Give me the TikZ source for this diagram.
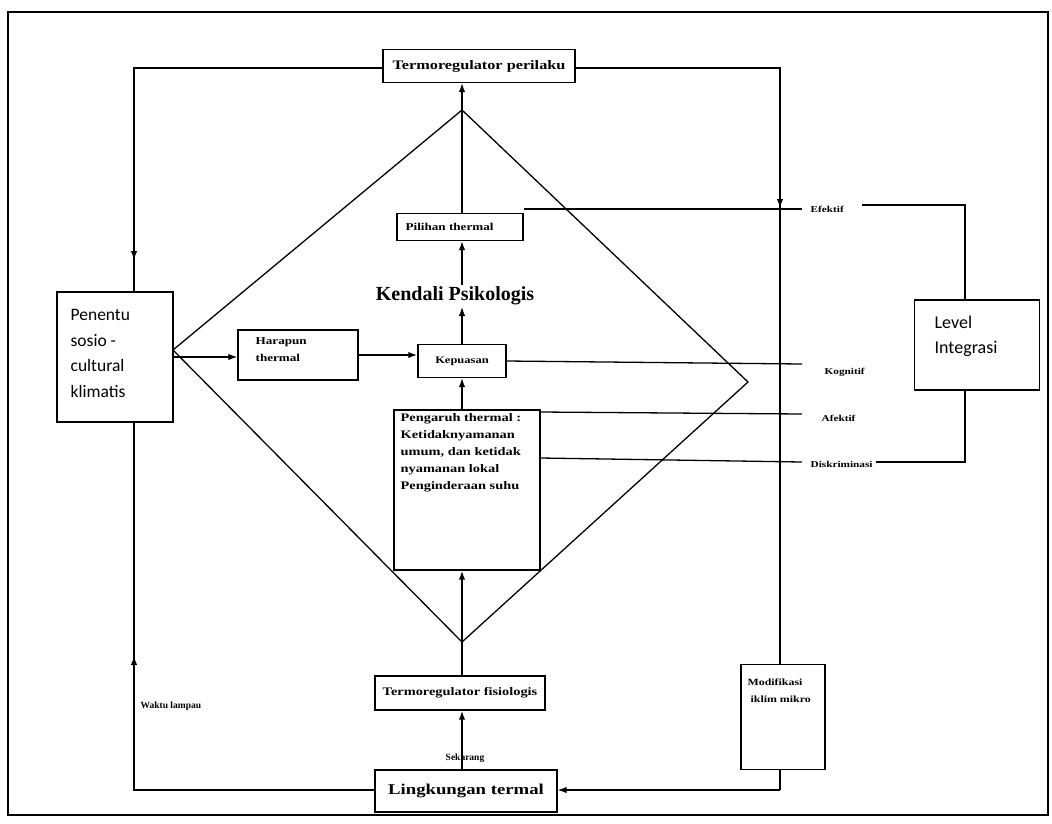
\documentclass[tikz,border=0pt]{standalone}
\usepackage{fontspec}
\setmainfont{Liberation Serif}
\newfontfamily\wideserif[FakeStretch=1.25]{Liberation Serif}
\newfontfamily\humsans{Carlito}
\usetikzlibrary{arrows.meta,calc}
\begin{document}
\begin{tikzpicture}[x=1pt,y=-1pt,line width=1.3pt,
  tip/.style={-{Latex[length=9pt,width=6.5pt]}},
  box/.style={draw,fill=white,line width=1.4pt,inner sep=0pt},
  smalllabel/.style={font=\wideserif\fontsize{10.5}{17}\selectfont\bfseries,align=left,inner sep=0pt},
  sidelabel/.style={font=\wideserif\fontsize{9}{11}\selectfont\bfseries,anchor=west,inner sep=0pt},
  heavy/.style={line width=2.1pt}]
\useasboundingbox (0,0) rectangle (1052,823);
% outer frame
\draw[line width=1.5pt] (8,12) rectangle (1048,815);

% central column used by the vertical chain
\coordinate (col) at (462,0);

% diamond of psychological control
\coordinate (dT) at (462,110);
\coordinate (dR) at (748,382);
\coordinate (dB) at (462,642);
\coordinate (dL) at (173,350);
\draw (dT) -- (dR) -- (dB) -- (dL) -- cycle;

% boxes
\node[box,minimum width=192pt,minimum height=33pt,font=\wideserif\fontsize{13}{15}\selectfont\bfseries] (per) at (479,66) {Termoregulator perilaku};
\node[box,minimum width=126pt,minimum height=27pt] (pil) at (460,227) {};
\node[smalllabel,anchor=west] at (405,227) {Pilihan thermal};
\node[box,minimum width=120pt,minimum height=50pt] (har) at (298,355) {};
\node[smalllabel,anchor=north west,font=\wideserif\fontsize{10.5}{17}\selectfont\bfseries] at (255,337) {Harapun\\thermal};
\node[box,minimum width=88pt,minimum height=33pt,font=\wideserif\fontsize{10}{12}\selectfont\bfseries] (kep) at (462,361) {Kepuasan};
\node[box,minimum width=146pt,minimum height=160pt] (pgr) at (467,490) {};
\node[smalllabel,anchor=north west,font=\wideserif\fontsize{11.5}{17}\selectfont\bfseries] at (400,413)
  {Pengaruh thermal :\\Ketidaknyamanan\\umum, dan ketidak\\nyamanan lokal\\Penginderaan suhu};
\node[box,minimum width=116pt,minimum height=130pt] (sos) at (115,357) {};
\node[anchor=north west,inner sep=0pt,align=left,font=\humsans\fontsize{17.5}{25.5}\selectfont] at (70,309)
  {Penentu\\sosio -\\cultural\\klimatis};
\node[box,minimum width=125pt,minimum height=90pt] (lvl) at (977,345) {};
\node[anchor=north west,inner sep=0pt,align=left,font=\humsans\fontsize{18}{25.5}\selectfont] at (934,315)
  {Level\\Integrasi};
\node[box,minimum width=170pt,minimum height=34pt,font=\wideserif\fontsize{11.5}{14}\selectfont\bfseries] (fis) at (460,693) {Termoregulator fisiologis};
\node[box,minimum width=182pt,minimum height=42pt,font=\wideserif\fontsize{15}{17}\selectfont\bfseries] (lin) at (466,791) {Lingkungan termal};
\node[box,minimum width=84pt,minimum height=105pt] (mod) at (783,717) {};
\node[smalllabel,anchor=north west,font=\wideserif\fontsize{9.5}{17}\selectfont\bfseries] at (747,678) {Modifikasi\\\ iklim mikro};

% title
\node[font=\fontsize{20}{22}\selectfont\bfseries] (title) at (455,296) {Kendali Psikologis};

% side labels
\node[sidelabel] (efk) at (810,209) {Efektif};
\node[sidelabel] (kog) at (824,372) {Kognitif};
\node[sidelabel] (afk) at (821,418) {Afektif};
\node[sidelabel] (dsk) at (810,464) {Diskriminasi};
\node[font=\fontsize{9.5}{11}\selectfont\bfseries,inner sep=0pt,anchor=west] (wkt) at (140,706) {Waktu lampau};
\node[font=\fontsize{9.5}{11}\selectfont\bfseries,inner sep=0pt] (skr) at (465,758) {Sekarang};

% feedback loop on the left
\coordinate (ltop) at (134,68);
\coordinate (lbot) at (134,790);
\draw (per.west |- ltop) -- (ltop) -- (sos.north -| ltop);
\draw[tip] (134,240) -- (134,260);
\draw (lin.west |- lbot) -- (lbot) -- (sos.south -| lbot);
\draw[tip] (134,676) -- (134,656);

% loop on the right through micro-climate modification
\coordinate (rtop) at (780,68);
\coordinate (rbot) at (780,790);
\draw (per.east |- rtop) -- (rtop) -- (mod.north -| rtop);
\draw[tip] (780,188) -- (780,208);
\draw (mod.south -| rbot) -- (rbot);
\draw[tip] (rbot) -- (lin.east |- rbot);

% vertical chain in the middle
\draw[tip] (pil.north -| col) -- (per.south -| col);
\draw[tip] (462,285) -- (pil.south -| col);
\draw[tip] (kep.north) -- (462,307);
\draw[tip] (pgr.north -| col) -- (kep.south -| col);
\draw[tip,heavy] (fis.north -| col) -- (pgr.south -| col);
\draw[tip,heavy] (lin.north -| col) -- (fis.south -| col);

% into the thermal expectation and satisfaction
\draw[tip] (sos.east) -- (har.west |- sos.east);
\draw[tip,heavy] (har.east) -- (kep.west |- har.east);

% integration levels
\draw (pil.east |- efk) -- (802,209);
\draw (kep.east) -- (802,364);
\draw (pgr.east |- 0,412) -- (802,414);
\draw (pgr.east |- 0,458) -- (802,462);
\draw[heavy] (862,205) -| ($(lvl.north)+(-12,0)$);
\draw[heavy] ($(lvl.south)+(-12,0)$) |- (876,462);
\end{tikzpicture}
\end{document}
